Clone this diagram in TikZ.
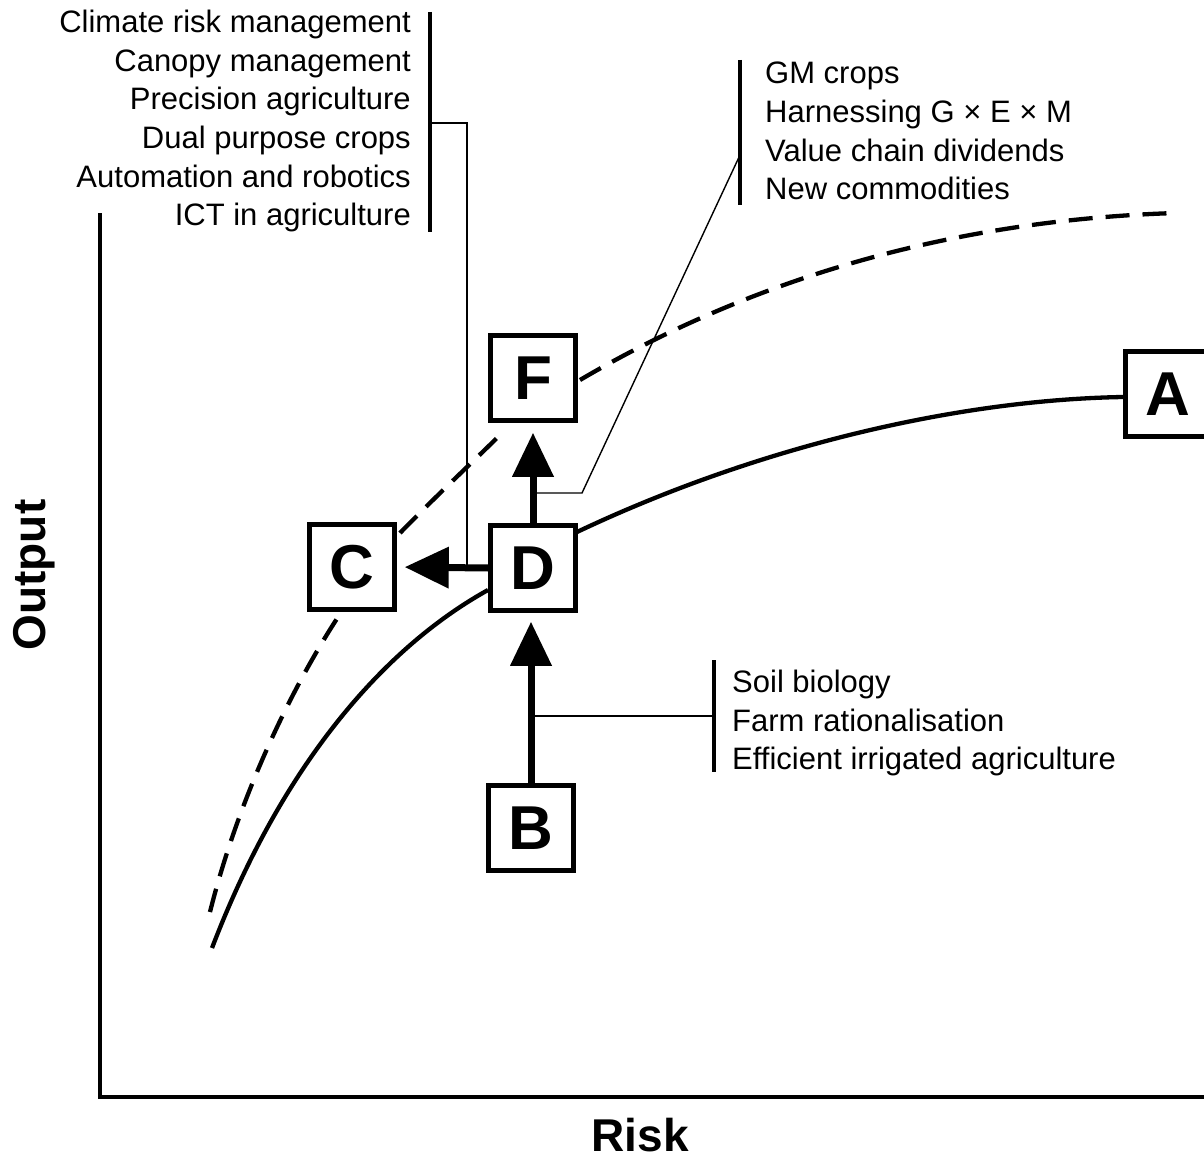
\documentclass[tikz,border=0pt]{standalone}
\usepackage{fontspec}
\setmainfont{Liberation Sans}
\usetikzlibrary{arrows.meta}
\begin{document}
\begin{tikzpicture}[x=1pt,y=-1pt,
  box/.style={draw, line width=4.5pt, minimum size=85pt, inner sep=0pt, fill=white, font=\fontsize{62}{62}\selectfont\bfseries},
  listtxt/.style={inner sep=0pt, font=\fontsize{31}{38.6}\selectfont},
  bar/.style={line width=4pt},
  thinline/.style={line width=1.4pt},
  bigarrow/.style={line width=7pt, -{Triangle[length=44pt,width=40pt]}},
  curve/.style={line width=4.3pt},
  dcurve/.style={line width=4.3pt, dash pattern=on 24pt off 13pt},
  axis/.style={line width=4pt},
  lab/.style={inner sep=0pt, font=\fontsize{46}{46}\selectfont\bfseries}
]
\useasboundingbox (0,0) rectangle (1204,1161);

% axes
\coordinate (ytop) at (100,213);
\coordinate (orig) at (100,1097);
\coordinate (xend) at (1210,1097);
\draw[axis] (ytop) -- (orig) -- (xend);
\node[lab, rotate=90] (out) at (34,575) {Output};
\node[lab] (risk) at (640,1135) {Risk};

% boxes positions
\coordinate (pA) at (1168,394);
\coordinate (pB) at (531,828);
\coordinate (pC) at (352,567);
\coordinate (pD) at (533,568);
\coordinate (pF) at (533,378);

% curves
\coordinate (s0) at (212,948);
\coordinate (s1) at (488,590);
\coordinate (s2) at (577,532);
\coordinate (s3) at (1123,397);
\draw[curve] (s0) .. controls (280,770) and (380,650) .. (s1);
\draw[curve] (s2) .. controls (750,450) and (950,400) .. (s3);

\coordinate (d0) at (210,912);
\coordinate (d1) at (340,614);
\coordinate (d2) at (400,533);
\coordinate (d3) at (505,430);
\coordinate (d4) at (580,380);
\coordinate (d5) at (1176,213);
\draw[dcurve] (d0) .. controls (238,800) and (290,690) .. (d1);
\draw[dcurve] (d2) .. controls (440,492) and (475,460) .. (d3);
\draw[dcurve] (d4) .. controls (750,280) and (950,220) .. (d5);

% boxes
\node[box] (A) at (pA) {A};
\node[box] (B) at (pB) {B};
\node[box] (C) at (pC) {C};
\node[box] (D) at (pD) {D};
\node[box] (F) at (pF) {F};

% arrows
\draw[bigarrow, shorten >=8pt] (D.west) -- (C.east);
\draw[bigarrow, shorten >=10pt] (D.north) -- (F.south);
\draw[bigarrow, shorten >=9pt] (B.north) -- (B.north |- D.south);

% top-left list
\node[listtxt, anchor=north east, align=right] (L1) at (411,10)
  {Climate risk management\\Canopy management\\Precision agriculture\\Dual purpose crops\\Automation and robotics\\ICT in agriculture};
\coordinate (b1t) at (430,12);
\coordinate (b1b) at (430,232);
\draw[bar] (b1t) -- (b1b);
\coordinate (b1m) at (430,123);
\coordinate (b1k) at (467,123);
\coordinate (b1e) at (467,568);
\draw[thinline] (b1m) -- (b1k) -- (b1e);

% GM list
\node[listtxt, anchor=north west, align=left] (L2) at (765,62)
  {GM crops\\Harnessing G \texttimes{} E \texttimes{} M\\Value chain dividends\\New commodities};
\coordinate (b2t) at (740,60);
\coordinate (b2b) at (740,205);
\draw[bar] (b2t) -- (b2b);
\coordinate (b2m) at (740,155);
\coordinate (b2k) at (582,493);
\coordinate (b2e) at (533,493);
\draw[thinline] (b2m) -- (b2k) -- (b2e);

% Soil list
\node[listtxt, anchor=north west, align=left] (L3) at (732,670)
  {Soil biology\\Farm rationalisation\\Efficient irrigated agriculture};
\coordinate (b3t) at (714,660);
\coordinate (b3b) at (714,772);
\draw[bar] (b3t) -- (b3b);
\coordinate (b3m) at (714,716);
\coordinate (b3e) at (531,716);
\draw[thinline] (b3e) -- (b3m);
\end{tikzpicture}
\end{document}
